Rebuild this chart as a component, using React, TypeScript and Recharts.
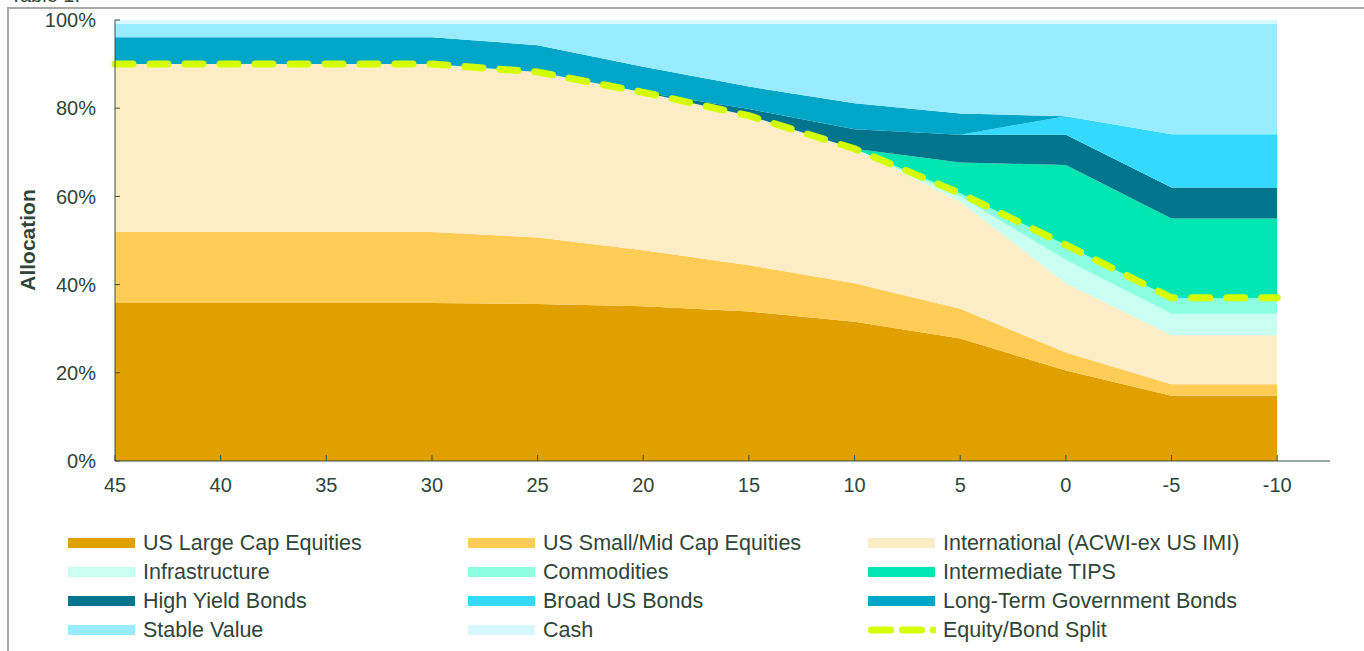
import { ComposedChart, Area, Line, XAxis, YAxis } from "recharts"

// years to retirement
const years = [45, 40, 35, 30, 25, 20, 15, 10, 5, 0, -5, -10]

// allocation %, bottom of stack first
const usLargeCap = [35.8, 35.8, 35.8, 35.8, 35.6, 35.1, 33.9, 31.6, 27.8, 20.5, 14.8, 14.8]
const usSmallMid = [16.1, 16.1, 16.1, 16.1, 15.1, 12.7, 10.5, 8.7, 6.7, 4.1, 2.6, 2.6]
const international = [38.1, 38.1, 38.1, 38.1, 37.5, 35.8, 33.9, 30.5, 24.3, 15.7, 11.1, 11.1]
const infrastructure = [0, 0, 0, 0, 0, 0, 0, 0, 1.2, 5.3, 4.9, 4.9]
const commodities = [0, 0, 0, 0, 0, 0, 0, 0, 0.7, 3.4, 3.5, 3.5]
const intermediateTips = [0, 0, 0, 0, 0, 0, 0, 0, 7.0, 18.1, 18.1, 18.1]
const highYield = [0, 0, 0, 0, 0, 0, 1.5, 4.4, 6.3, 6.9, 7.0, 7.0]
const broadBonds = [0, 0, 0, 0, 0, 0, 0, 0, 0, 4.2, 12.1, 12.1]
const longGovBonds = [6.1, 6.1, 6.1, 6.1, 6.1, 5.8, 5.1, 5.9, 4.8, 0, 0, 0]
const stableValue = [3.0, 3.0, 3.0, 3.0, 4.8, 9.7, 14.2, 18.0, 20.3, 20.9, 25.0, 25.0]
const cash = [0.9, 0.9, 0.9, 0.9, 0.9, 0.9, 0.9, 0.9, 0.9, 0.9, 0.9, 0.9]
const equitySplit = [90, 90, 90, 90, 88.2, 83.6, 78.3, 70.8, 60.7, 49.0, 37.0, 37.0]

const xTicks = [45, 40, 35, 30, 25, 20, 15, 10, 5, 0, -5, -10]
const yTicks = [0, 20, 40, 60, 80, 100]

const SERIES = [
  { key: "large", name: "US Large Cap Equities", color: "#E0A000", values: usLargeCap },
  { key: "small", name: "US Small/Mid Cap Equities", color: "#FFCC55", values: usSmallMid },
  { key: "intl", name: "International (ACWI-ex US IMI)", color: "#FDEDC7", values: international },
  { key: "infra", name: "Infrastructure", color: "#C8FFF0", values: infrastructure },
  { key: "commod", name: "Commodities", color: "#8CFFE0", values: commodities },
  { key: "tips", name: "Intermediate TIPS", color: "#00E6B2", values: intermediateTips },
  { key: "hy", name: "High Yield Bonds", color: "#00758C", values: highYield },
  { key: "broad", name: "Broad US Bonds", color: "#33D9FF", values: broadBonds },
  { key: "ltgov", name: "Long-Term Government Bonds", color: "#00A6C8", values: longGovBonds },
  { key: "stable", name: "Stable Value", color: "#99ECFF", values: stableValue },
  { key: "cash", name: "Cash", color: "#D8F8FF", values: cash },
]

const SPLIT_COLOR = "#D4FF00"
const TEXT = "#2F4638"
const AXIS = "#3A5043"
const FONT = '"Liberation Sans", Arial, sans-serif'

const data = years.map((year, i) => {
  const row: Record<string, number> = { year, split: equitySplit[i] }
  SERIES.forEach((s) => { row[s.key] = s.values[i] })
  return row
})

// legend laid out in 3 columns, row-major
const legendItems = [...SERIES.map((s) => ({ name: s.name, color: s.color, dashed: false })),
  { name: "Equity/Bond Split", color: SPLIT_COLOR, dashed: true }]

function Swatch({ color, dashed }: { color: string; dashed: boolean }) {
  if (dashed) {
    return (
      <svg width={68} height={12} style={{ display: "block" }}>
        <line x1={3.5} y1={6} x2={66} y2={6} stroke={color} strokeWidth={7}
          strokeDasharray="19 12" strokeLinecap="round" />
      </svg>
    )
  }
  return <div style={{ width: 67, height: 10, background: color }} />
}

export default function App() {
  return (
    <div style={{ position: "absolute", left: 0, top: 0, width: 1364, height: 651, overflow: "hidden", background: "#fff", fontFamily: FONT }}>
      <div style={{ position: "absolute", left: 10, top: -16, fontSize: 20, color: TEXT }}>Table 1:</div>
      <div style={{ position: "absolute", left: 7, top: 7, right: -10, bottom: -10, borderTop: "2px solid #A8A8A8", borderLeft: "2px solid #A8A8A8" }} />

      <div style={{ position: "absolute", left: 28, top: 240, transform: "translate(-50%, -50%) rotate(-90deg)", fontSize: 21, fontWeight: 700, color: TEXT, whiteSpace: "nowrap" }}>
        Allocation
      </div>

      <div style={{ position: "absolute", left: 0, top: 0 }}>
        <ComposedChart width={1364} height={651} data={data} margin={{ top: 20, right: 34, left: 0, bottom: 160 }}>
          <XAxis
            dataKey="year"
            type="number"
            domain={[-12.5, 45]}
            reversed
            ticks={xTicks}
            interval={0}
            height={30}
            tickSize={-6}
            tickMargin={23}
            stroke={AXIS}
            tick={{ fontSize: 20, fill: TEXT, fontFamily: FONT }}
          />
          <YAxis
            type="number"
            domain={[0, 100]}
            ticks={yTicks}
            interval={0}
            width={115}
            tickSize={-5}
            tickMargin={24}
            stroke={AXIS}
            tickFormatter={(v) => `${v}%`}
            tick={{ fontSize: 20, fill: TEXT, fontFamily: FONT }}
          />
          {SERIES.map((s) => (
            <Area
              key={s.key}
              type="linear"
              dataKey={s.key}
              name={s.name}
              stackId="alloc"
              stroke="none"
              fill={s.color}
              fillOpacity={1}
              isAnimationActive={false}
            />
          ))}
          <Line
            type="linear"
            dataKey="split"
            name="Equity/Bond Split"
            stroke={SPLIT_COLOR}
            strokeWidth={7}
            strokeDasharray="18 17"
            strokeLinecap="round"
            dot={false}
            activeDot={false}
            isAnimationActive={false}
          />
        </ComposedChart>
      </div>

      <div style={{ position: "absolute", left: 68, top: 531, display: "grid", gridTemplateColumns: "400px 400px 420px", rowGap: 5 }}>
        {legendItems.map((it) => (
          <div key={it.name} style={{ display: "flex", alignItems: "center", height: 24 }}>
            <Swatch color={it.color} dashed={it.dashed} />
            <span style={{ marginLeft: it.dashed ? 7 : 8, fontSize: 21.5, color: TEXT, whiteSpace: "nowrap" }}>{it.name}</span>
          </div>
        ))}
      </div>
    </div>
  )
}
